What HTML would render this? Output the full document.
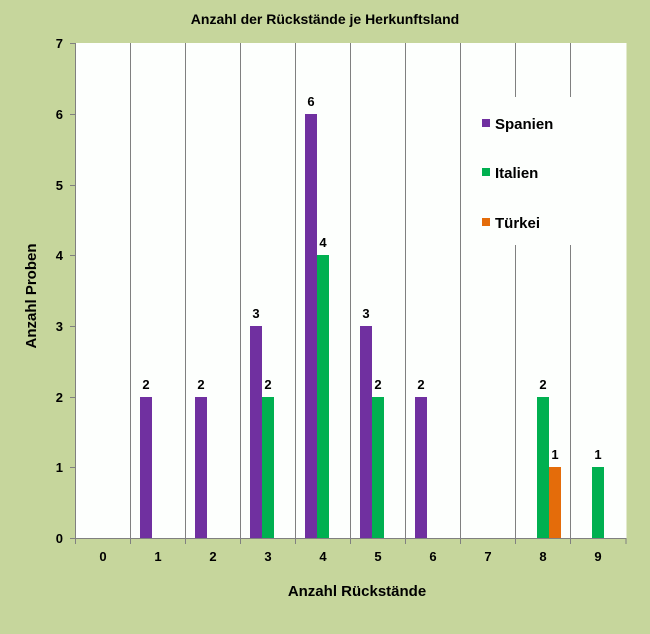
<!DOCTYPE html>
<html><head><meta charset="utf-8"><style>
body{margin:0;background:#c6d69c;}
svg{display:block;font-family:"Liberation Sans",Arial,sans-serif;font-weight:bold;}
</style></head><body>
<svg width="650" height="634" xmlns="http://www.w3.org/2000/svg">
<rect width="650" height="634" fill="#c6d69c"/>
<rect x="75.5" y="43" width="551" height="495" fill="#fdfffd"/>
<g stroke="#808080" stroke-width="1">
<line x1="130.5" y1="43" x2="130.5" y2="538"/><line x1="185.5" y1="43" x2="185.5" y2="538"/>
<line x1="240.5" y1="43" x2="240.5" y2="538"/><line x1="295.5" y1="43" x2="295.5" y2="538"/>
<line x1="350.5" y1="43" x2="350.5" y2="538"/><line x1="405.5" y1="43" x2="405.5" y2="538"/>
<line x1="460.5" y1="43" x2="460.5" y2="538"/><line x1="515.5" y1="43" x2="515.5" y2="538"/>
<line x1="570.5" y1="43" x2="570.5" y2="538"/>
<line x1="75.5" y1="43" x2="75.5" y2="544"/>
<line x1="70" y1="538.5" x2="626" y2="538.5"/>
</g>
<g stroke="#808080">
<line x1="70" y1="43.5" x2="75" y2="43.5"/><line x1="70" y1="114.5" x2="75" y2="114.5"/><line x1="70" y1="185.5" x2="75" y2="185.5"/><line x1="70" y1="255.5" x2="75" y2="255.5"/><line x1="70" y1="326.5" x2="75" y2="326.5"/><line x1="70" y1="397.5" x2="75" y2="397.5"/><line x1="70" y1="467.5" x2="75" y2="467.5"/>
<line x1="130.5" y1="538" x2="130.5" y2="544"/><line x1="185.5" y1="538" x2="185.5" y2="544"/><line x1="240.5" y1="538" x2="240.5" y2="544"/><line x1="295.5" y1="538" x2="295.5" y2="544"/><line x1="350.5" y1="538" x2="350.5" y2="544"/><line x1="405.5" y1="538" x2="405.5" y2="544"/><line x1="460.5" y1="538" x2="460.5" y2="544"/><line x1="515.5" y1="538" x2="515.5" y2="544"/><line x1="570.5" y1="538" x2="570.5" y2="544"/><line x1="626" y1="538" x2="626" y2="544"/>
</g>
<rect x="461" y="97" width="165" height="148" fill="#fdfffd"/>
<g fill="#7030a0">
<rect x="140" y="397" width="12" height="141"/><rect x="195" y="397" width="12" height="141"/>
<rect x="250" y="326" width="12" height="212"/><rect x="305" y="114" width="12" height="424"/>
<rect x="360" y="326" width="12" height="212"/><rect x="415" y="397" width="12" height="141"/>
</g>
<g fill="#00b050">
<rect x="262" y="397" width="12" height="141"/><rect x="317" y="255" width="12" height="283"/>
<rect x="372" y="397" width="12" height="141"/><rect x="537" y="397" width="12" height="141"/>
<rect x="592" y="467" width="12" height="71"/>
</g>
<rect x="549" y="467" width="12" height="71" fill="#e46c0a"/>
<g font-size="13" text-anchor="middle" fill="#000">
<text x="146" y="389">2</text><text x="201" y="389">2</text><text x="256" y="318">3</text><text x="268" y="389">2</text>
<text x="311" y="106">6</text><text x="323" y="247">4</text><text x="366" y="318">3</text><text x="378" y="389">2</text>
<text x="421" y="389">2</text><text x="543" y="389">2</text><text x="555" y="459">1</text><text x="598" y="459">1</text>
</g>
<g font-size="13" text-anchor="end">
<text x="63" y="48">7</text><text x="63" y="119">6</text><text x="63" y="190">5</text><text x="63" y="260">4</text><text x="63" y="331">3</text><text x="63" y="402">2</text><text x="63" y="472">1</text><text x="63" y="543">0</text>
</g>
<g font-size="13" text-anchor="middle">
<text x="103" y="561">0</text><text x="158" y="561">1</text><text x="213" y="561">2</text><text x="268" y="561">3</text><text x="323" y="561">4</text><text x="378" y="561">5</text><text x="433" y="561">6</text><text x="488" y="561">7</text><text x="543" y="561">8</text><text x="598" y="561">9</text>
</g>
<text x="357" y="596" font-size="15" text-anchor="middle">Anzahl Rückstände</text>
<text x="36" y="296" font-size="15" text-anchor="middle" transform="rotate(-90 36 296)">Anzahl Proben</text>
<text x="325" y="24" font-size="14" text-anchor="middle">Anzahl der Rückstände je Herkunftsland</text>
<rect x="482" y="119" width="8" height="8" fill="#7030a0"/><text x="495" y="129" font-size="15">Spanien</text>
<rect x="482" y="168" width="8" height="8" fill="#00b050"/><text x="495" y="178" font-size="15">Italien</text>
<rect x="482" y="218" width="8" height="8" fill="#e46c0a"/><text x="495" y="228" font-size="15">Türkei</text>
</svg>
</body></html>
